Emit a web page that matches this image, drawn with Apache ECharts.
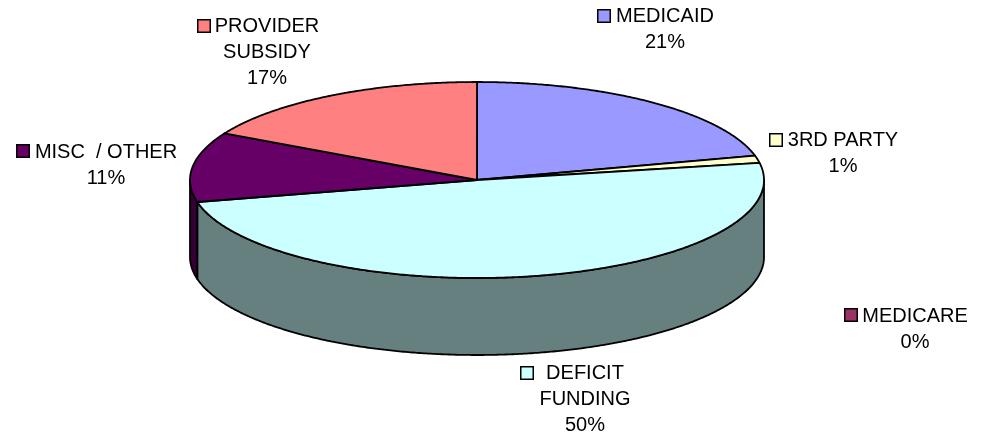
<!DOCTYPE html>
<html>
<head>
<meta charset="utf-8">
<style>html,body{margin:0;padding:0;background:#fff}#c{width:986px;height:434px}</style>
<script src="https://cdn.jsdelivr.net/npm/echarts@6/dist/echarts.min.js"></script>
</head>
<body>
<div id="c"></div>
<script>
// Data, clockwise from 12 o'clock
const categories = ['MEDICAID', '3RD PARTY', 'DEFICIT\nFUNDING', 'MISC  / OTHER', 'PROVIDER\nSUBSIDY', 'MEDICARE'];
const shares = [21, 1.2, 49.2, 11.5, 17.1, 0];
// Percentages as printed on the chart
const printedPercents = ['21%', '1%', '50%', '11%', '17%', '0%'];

// Styling and layout, kept apart from the data
const topColors = ['#9999FF', '#FFFFCC', '#CCFFFF', '#660066', '#FF8080', '#993366'];
const wallColors = ['#4D4D80', '#808066', '#668080', '#330033', '#804040', '#4D1A33'];
const labelCenters = [[665, 16], [843, 140], [585, 373], [106, 152], [267, 26], [915, 316]];
const markerCorners = [[597, 9], [769, 133], [520, 366], [16, 144], [197, 19], [844, 308]];
const pie = { cx: 477, cy: 180, rx: 287, ry: 98, depth: 77 };

const total = shares.reduce((a, b) => a + b, 0);
const TAU = Math.PI * 2;
const pt = (t, dy) => [pie.cx + pie.rx * Math.sin(t), pie.cy - pie.ry * Math.cos(t) + (dy || 0)];
function arc(t0, t1, dy) {
  const n = Math.max(2, Math.ceil(Math.abs(t1 - t0) / 0.008));
  const out = [];
  for (let i = 0; i <= n; i++) out.push(pt(t0 + (t1 - t0) * i / n, dy));
  return out;
}
const line = { stroke: '#000', lineWidth: 1.8, lineJoin: 'round' };

function renderItem(params, api) {
  const i = params.dataIndex;
  const value = api.value(0);
  const before = shares.slice(0, i).reduce((a, b) => a + b, 0);
  const t0 = before / total * TAU;
  const t1 = (before + value) / total * TAU;
  const children = [];
  if (value > 0) {
    // Visible part of the side wall: the front half of the ellipse
    const w0 = Math.max(t0, Math.PI / 2);
    const w1 = Math.min(t1, Math.PI * 1.5);
    if (w1 > w0) {
      children.push({
        type: 'polygon', z2: 1,
        shape: { points: arc(w0, w1, 0).concat(arc(w1, w0, pie.depth)) },
        style: Object.assign({ fill: wallColors[i] }, line)
      });
    }
    // Top face
    children.push({
      type: 'polygon', z2: 2,
      shape: { points: [[pie.cx, pie.cy]].concat(arc(t0, t1, 0)) },
      style: Object.assign({ fill: topColors[i] }, line)
    });
  }
  // Legend-key marker and the label
  const m = markerCorners[i], c = labelCenters[i];
  children.push({
    type: 'rect', z2: 3,
    shape: { x: m[0] + 0.75, y: m[1] + 0.75, width: 12.5, height: 12.5 },
    style: { fill: topColors[i], stroke: '#000', lineWidth: 1.5 }
  });
  children.push({
    type: 'text', z2: 3,
    style: {
      text: categories[i] + '\n' + printedPercents[i],
      x: c[0], y: c[1] - 13,
      align: 'center', verticalAlign: 'top',
      font: '20px "Liberation Sans", Arial, sans-serif',
      lineHeight: 26, fill: '#000'
    }
  });
  return { type: 'group', children };
}

const chart = echarts.init(document.getElementById('c'), null, { renderer: 'canvas' });
chart.setOption({
  animation: false,
  backgroundColor: '#fff',
  series: [{
    type: 'custom',
    coordinateSystem: 'none',
    renderItem,
    data: shares.map(v => [v]),
    silent: true
  }]
});
</script>
</body>
</html>
